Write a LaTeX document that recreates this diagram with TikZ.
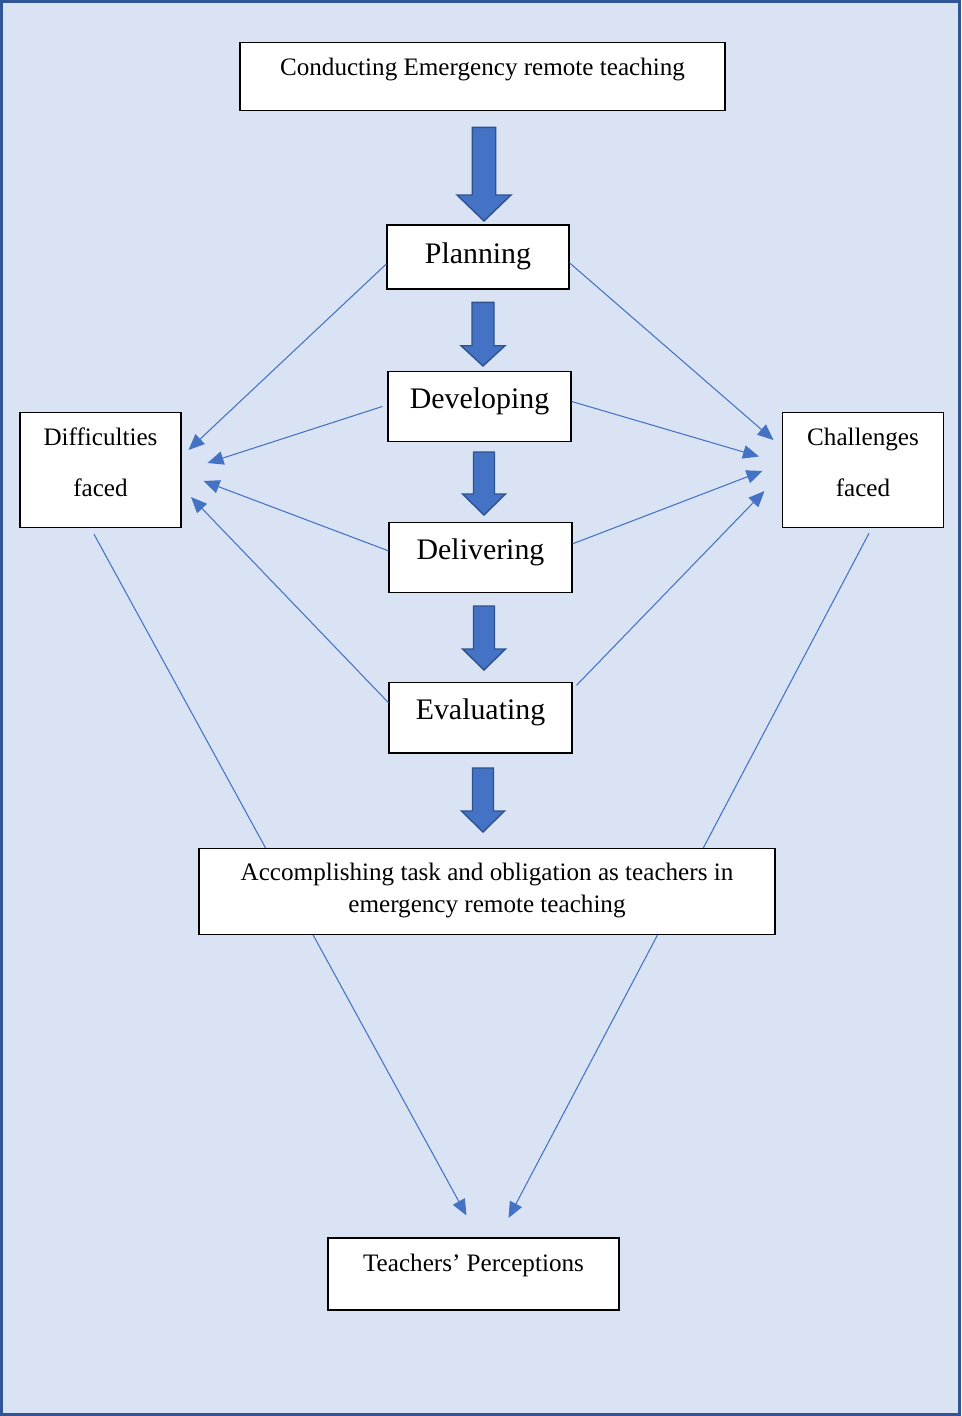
\documentclass[tikz,border=0pt]{standalone}
\usepackage{fontspec}
\setmainfont{Liberation Serif}
\usetikzlibrary{arrows.meta, positioning, backgrounds}
\definecolor{pageblue}{RGB}{218, 227, 243}
\definecolor{frameblue}{RGB}{47, 85, 151}
\definecolor{linkblue}{RGB}{68, 114, 196}
\definecolor{arrowedge}{RGB}{47, 82, 143}

\begin{document}
\begin{tikzpicture}[
    x=0.02cm, y=-0.02cm,
    box/.style={rectangle, draw=black, line width=0.7pt, fill=white, inner xsep=0pt, inner ysep=0pt, anchor=north, align=center},
    stepbox/.style={box, font=\fontsize{17}{20}\selectfont},
    textbox/.style={box, font=\fontsize{14.3}{18}\selectfont},
    sidebox/.style={box, font=\fontsize{14.3}{28.7}\selectfont, minimum width=3.22cm, text height=1.675cm, text depth=0.625cm},
    link/.style={draw=linkblue, line width=0.6pt, -{Triangle[length=0.32cm, width=0.27cm]}},
    blockarrow/.style={fill=linkblue, draw=arrowedge, line width=0.8pt, line join=miter}
]
    \useasboundingbox (0,0) rectangle (961,1416);

    % page
    \begin{scope}[on background layer]
        \fill[pageblue] (0,0) rectangle (961,1416);
        \draw[frameblue, line width=0.06cm] (1.5,1.5) rectangle (959.5,1414.5);
    \end{scope}

    % boxes
    \node[textbox, minimum width=9.7cm, text height=0.666cm, text depth=0.70cm] (conduct) at (482.5,41.7) {Conducting Emergency remote teaching};
    \node[stepbox, minimum width=3.64cm, text height=0.768cm, text depth=0.512cm] (plan) at (478,224.3) {Planning};
    \node[stepbox, minimum width=3.66cm, text height=0.752cm, text depth=0.654cm] (dev) at (479.5,370.7) {Developing};
    \node[stepbox, minimum width=3.66cm, text height=0.752cm, text depth=0.648cm] (deliv) at (480.5,521.7) {Delivering};
    \node[stepbox, minimum width=3.66cm, text height=0.746cm, text depth=0.666cm] (eval) at (480.5,681.7) {Evaluating};
    \node[textbox, minimum width=11.52cm, text height=1.28cm, text depth=0.44cm] (accomp) at (487,847.7) {Accomplishing task and obligation as teachers in\\emergency remote teaching};
    \node[textbox, minimum width=5.82cm, text height=0.668cm, text depth=0.772cm] (percep) at (473.5,1237.3) {Teachers’ Perceptions};
    \node[sidebox] (diff) at (100.5,411.7) {Difficulties\\faced};
    \node[sidebox] (chal) at (863,411.7) {Challenges\\faced};

    % block arrows between the steps
    \foreach \x/\top/\tip/\shaft/\head/\hl in {484/127.3/221/11.7/27/26, 483/302.3/366/11/22/20.3, 484/452/515/10.5/21.5/21, 484/606/670/10.5/21.5/21, 483/768/832/10.5/21.5/21}
        \draw[blockarrow] (\x-\shaft,\top) -- (\x+\shaft,\top) -- (\x+\shaft,\tip-\hl) -- (\x+\head,\tip-\hl) -- (\x,\tip) -- (\x-\head,\tip-\hl) -- (\x-\shaft,\tip-\hl) -- cycle;

    % arrow ends
    \coordinate (d1) at (188.5,450);
    \coordinate (d2) at (207.5,463);
    \coordinate (d3) at (203.5,481);
    \coordinate (d4) at (191,497);
    \coordinate (c1) at (773.5,440);
    \coordinate (c2) at (759,456.5);
    \coordinate (c3) at (762.5,471);
    \coordinate (c4) at (764.5,491);
    \coordinate (p1) at (466.5,1215.5);
    \coordinate (p2) at (508.5,1218);

    % links to the side boxes
    \draw[link] ([yshift=-0.14cm]plan.west) -- (d1);
    \draw[link] ([xshift=-0.1cm]dev.west) -- (d2);
    \draw[link] ([yshift=0.13cm]deliv.west) -- (d3);
    \draw[link] ([yshift=0.3cm]eval.west) -- (d4);
    \draw[link] ([yshift=-0.12cm]plan.east) -- (c1);
    \draw[link] ([yshift=0.1cm]dev.east) -- (c2);
    \draw[link] ([yshift=0.27cm]deliv.east) -- (c3);
    \draw[link] ([shift={(0.08cm,-0.07cm)}]eval.north east) -- (c4);

    % links down to the perceptions
    \begin{scope}[on background layer]
        \draw[link] ([shift={(-0.13cm,-0.126cm)}]diff.south) -- (p1);
        \draw[link] ([shift={(0.12cm,-0.106cm)}]chal.south) -- (p2);
    \end{scope}
\end{tikzpicture}
\end{document}
